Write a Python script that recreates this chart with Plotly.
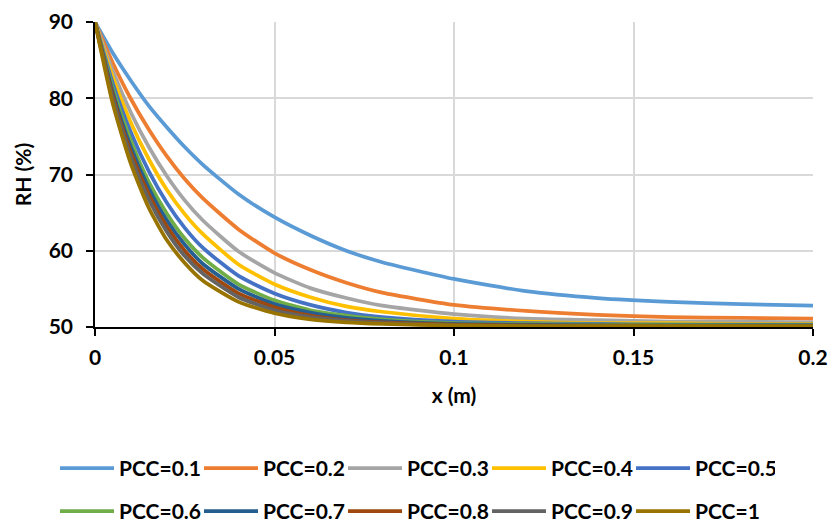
import plotly.graph_objects as go

x_m = [0, 0.005, 0.01, 0.015, 0.02, 0.025, 0.03, 0.04, 0.05, 0.06, 0.07, 0.08,
       0.1, 0.12, 0.14, 0.16, 0.18, 0.2]

rh_pcc01 = [90, 85.9, 82.3, 79.0, 76.2, 73.6, 71.3, 67.4, 64.4, 62.0, 60.0, 58.5,
            56.3, 54.7, 53.8, 53.3, 53.0, 52.8]
rh_pcc02 = [90, 84.6, 79.9, 75.9, 72.4, 69.4, 66.9, 62.8, 59.7, 57.5, 55.8, 54.5,
            52.9, 52.1, 51.6, 51.3, 51.2, 51.1]
rh_pcc03 = [90, 83.5, 78.1, 73.6, 69.8, 66.6, 64.0, 59.9, 57.1, 55.1, 53.8, 52.8,
            51.7, 51.1, 50.9, 50.7, 50.7, 50.6]
rh_pcc04 = [90, 82.7, 76.8, 72.0, 68.0, 64.8, 62.2, 58.2, 55.6, 53.9, 52.7, 52.0,
            51.1, 50.7, 50.5, 50.5, 50.4, 50.4]
rh_pcc05 = [90, 81.9, 75.5, 70.4, 66.3, 63.0, 60.4, 56.7, 54.4, 52.9, 51.9, 51.3,
            50.7, 50.5, 50.4, 50.3, 50.3, 50.3]
rh_pcc06 = [90, 81.2, 74.4, 69.0, 64.9, 61.6, 59.1, 55.6, 53.5, 52.2, 51.5, 51.0,
            50.5, 50.4, 50.3, 50.3, 50.25, 50.25]
rh_pcc07 = [90, 80.7, 73.6, 68.2, 64.0, 60.8, 58.3, 55.0, 53.0, 51.9, 51.2, 50.8,
            50.4, 50.3, 50.2, 50.2, 50.2, 50.2]
rh_pcc08 = [90, 80.3, 72.9, 67.4, 63.2, 60.0, 57.6, 54.4, 52.6, 51.5, 50.9, 50.6,
            50.3, 50.2, 50.17, 50.16, 50.15, 50.15]
rh_pcc09 = [90, 79.9, 72.3, 66.7, 62.5, 59.3, 57.0, 53.9, 52.2, 51.3, 50.8, 50.5,
            50.2, 50.14, 50.11, 50.1, 50.1, 50.1]
rh_pcc10 = [90, 79.2, 71.4, 65.6, 61.4, 58.4, 56.1, 53.3, 51.8, 51.0, 50.6, 50.4,
            50.2, 50.12, 50.1, 50.1, 50.1, 50.1]

series_names = ["PCC=0.1", "PCC=0.2", "PCC=0.3", "PCC=0.4", "PCC=0.5",
                "PCC=0.6", "PCC=0.7", "PCC=0.8", "PCC=0.9", "PCC=1"]
series_values = [rh_pcc01, rh_pcc02, rh_pcc03, rh_pcc04, rh_pcc05,
                 rh_pcc06, rh_pcc07, rh_pcc08, rh_pcc09, rh_pcc10]
colors = ["#5B9BD5", "#ED7D31", "#A5A5A5", "#FFC000", "#4472C4",
          "#70AD47", "#255E91", "#9E480E", "#636363", "#997300"]

x_ticks = [0, 0.05, 0.1, 0.15, 0.2]
x_tick_labels = ["0", "0.05", "0.1", "0.15", "0.2"]
y_ticks = [50, 60, 70, 80, 90]

FONT = "Lato"
FS = 21
W, H = 830, 523

fig = go.Figure()
for i, (name, vals, col) in enumerate(zip(series_names, series_values, colors)):
    fig.add_trace(go.Scatter(
        x=x_m, y=vals, mode="lines", name=name,
        line=dict(color=col, width=3.75, shape="spline", smoothing=0.6),
        legend="legend" if i < 5 else "legend2",
    ))

leg_common = dict(
    orientation="h", xref="container", yref="container",
    x=55 / W, xanchor="left", yanchor="middle",
    font=dict(family=FONT, size=FS, color="black", weight="bold"),
    itemwidth=54, entrywidth=75, entrywidthmode="pixels",
    bgcolor="rgba(0,0,0,0)",
)

fig.update_layout(
    width=W, height=H,
    margin=dict(l=95, r=17, t=22, b=196, autoexpand=False),
    paper_bgcolor="white", plot_bgcolor="white",
    font=dict(family=FONT, size=FS, color="black"),
    showlegend=True,
    legend=dict(leg_common, y=1 - 468.5 / H),
    legend2=dict(leg_common, y=1 - 511.5 / H),
    xaxis=dict(
        range=[0, 0.2], tickvals=x_ticks, ticktext=x_tick_labels,
        showgrid=True, gridcolor="#D9D9D9", gridwidth=1.5,
        showline=True, linecolor="black", linewidth=1.5,
        ticks="outside", ticklen=7, tickcolor="black", tickwidth=1.5,
        ticklabelstandoff=4,
        tickfont=dict(family=FONT, size=FS, weight="bold"),
        title=dict(text="<b>x (m)</b>", font=dict(family=FONT, size=FS), standoff=20),
        zeroline=False, automargin=False,
    ),
    yaxis=dict(
        range=[50, 90], tickvals=y_ticks,
        showgrid=True, gridcolor="#D9D9D9", gridwidth=1.5,
        showline=True, linecolor="black", linewidth=1.5,
        ticks="outside", ticklen=7, tickcolor="black", tickwidth=1.5,
        ticklabelstandoff=9,
        tickfont=dict(family=FONT, size=FS, weight="bold"),
        title=dict(text="<b>RH (%)</b>", font=dict(family=FONT, size=FS), standoff=11),
        zeroline=False, automargin=False,
    ),
)

fig.write_html("out.html", config={"displayModeBar": False},
               post_script="document.body.style.margin='0';")
